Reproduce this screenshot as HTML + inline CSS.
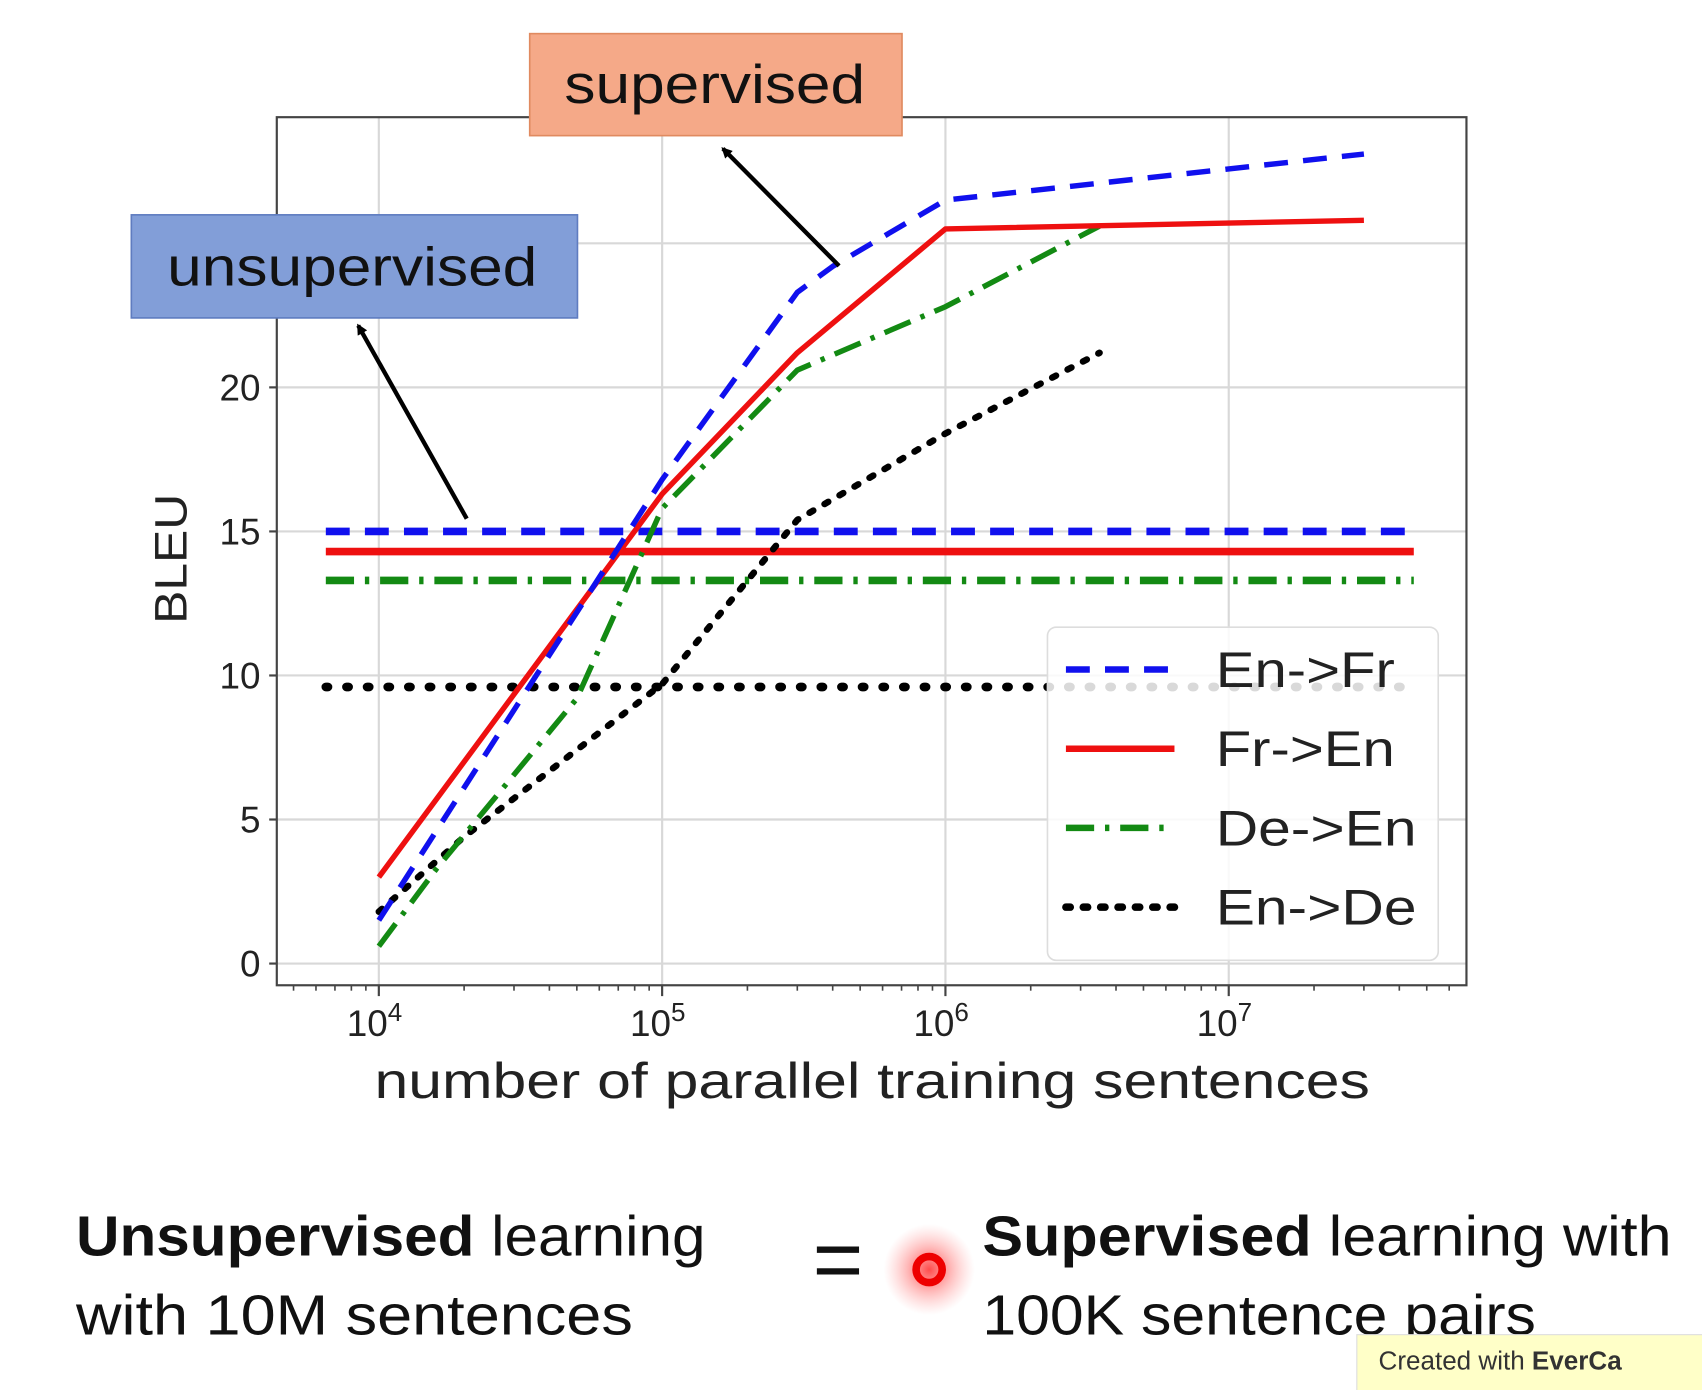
<!DOCTYPE html>
<html><head><meta charset="utf-8"><style>
html,body{margin:0;padding:0;background:#fff;width:1702px;height:1390px;overflow:hidden}
svg{display:block}
text{font-family:"Liberation Sans","DejaVu Sans",sans-serif}
</style></head><body>
<svg id="chart" width="1702" height="1390" viewBox="0 0 1568 1281" preserveAspectRatio="none" xmlns="http://www.w3.org/2000/svg">
<defs>
<radialGradient id="glow"><stop offset="0" stop-color="#ff2020" stop-opacity="0.8"/><stop offset="0.5" stop-color="#ff4040" stop-opacity="0.35"/><stop offset="1" stop-color="#ff8080" stop-opacity="0"/></radialGradient>
<marker id="ah" markerWidth="10" markerHeight="10" refX="8" refY="5" orient="auto" markerUnits="userSpaceOnUse"><path d="M0,0 L10,5 L0,10 z" fill="#000"/></marker>
</defs>
<g id="grid"></g>
<rect x="255" y="108" width="1096" height="800" fill="none" stroke="#444" stroke-width="2"/>
<g id="ticks"></g>
<g id="series"></g>
<text transform="translate(172,515) rotate(-90)" text-anchor="middle" font-size="42" textLength="120" lengthAdjust="spacingAndGlyphs" fill="#222">BLEU</text>
<text x="345" y="1012" font-size="46" textLength="917" lengthAdjust="spacingAndGlyphs" fill="#222">number of parallel training sentences</text>
<g>
<rect x="965" y="578" width="360" height="307" rx="8" fill="#fff" fill-opacity="0.85" stroke="#ddd" stroke-width="1.5"/>
<g id="legend-entries"></g>
</g>
<g>
<rect x="488" y="31" width="343" height="94" fill="#f5a988" stroke="#e08a60" stroke-width="1.5"/>
<text x="520" y="95" font-size="50" textLength="277" lengthAdjust="spacingAndGlyphs" fill="#111">supervised</text>
</g>
<g>
<rect x="121" y="198" width="411" height="95" fill="#829ed8" stroke="#5f7cc0" stroke-width="1.5"/>
<text x="154" y="263" font-size="50" textLength="341" lengthAdjust="spacingAndGlyphs" fill="#111">unsupervised</text>
</g>
<line x1="430" y1="478" x2="330" y2="300" stroke="#000" stroke-width="4" marker-end="url(#ah)"/>
<line x1="773" y1="245" x2="666" y2="137" stroke="#000" stroke-width="4" marker-end="url(#ah)"/>
<text x="70" y="1157" font-size="52" textLength="580" lengthAdjust="spacingAndGlyphs" fill="#111"><tspan font-weight="bold">Unsupervised</tspan> learning</text>
<text x="70" y="1230" font-size="52" textLength="513" lengthAdjust="spacingAndGlyphs" fill="#111">with 10M sentences</text>
<text x="772" y="1188" text-anchor="middle" font-size="80" fill="#111">=</text>
<circle cx="856" cy="1170" r="42" fill="url(#glow)"/>
<circle cx="856" cy="1170" r="12" fill="none" stroke="#ee0000" stroke-width="7"/>
<text x="905" y="1157" font-size="52" textLength="635" lengthAdjust="spacingAndGlyphs" fill="#111"><tspan font-weight="bold">Supervised</tspan> learning with</text>
<text x="905" y="1230" font-size="52" textLength="510" lengthAdjust="spacingAndGlyphs" fill="#111">100K sentence pairs</text>
<g>
<rect x="1250" y="1230" width="330" height="60" fill="#ffffc8" stroke="#ddd"/>
<text x="1270" y="1262" font-size="24" fill="#333">Created with <tspan font-weight="bold">EverCa</tspan></text>
</g>
</svg>
<script>
const yTicks=[0,5,10,15,20,25];
const xDecades=[4,5,6,7];
const names=["En->Fr","Fr->En","De->En","En->De"];
const supX=[[1e4,1e5,3e5,4e5,1e6,3e7],[1e4,1e5,3e5,1e6,3e7],[1e4,1.6e4,5e4,1e5,3e5,1e6,3.5e6],[1e4,2e4,1e5,3e5,1e6,3.5e6]];
const supEnFr=[1.5,16.8,23.3,24.2,26.5,28.1];
const supFrEn=[3.0,16.3,21.2,25.5,25.8];
const supDeEn=[0.6,3.3,9.2,15.8,20.6,22.8,25.6];
const supEnDe=[1.8,4.4,9.7,15.4,18.4,21.2];
const unsupVals=[15.0,14.3,13.3,9.6];
const unsupRange=[6.5e3,4.5e7];
const ns="http://www.w3.org/2000/svg";
const sx=v=>349+261*(Math.log10(v)-4);
const sy=v=>888-26.55*v;
const colors=["#1010ee","#ee1010","#138a13","#000"];
const dashes=["22,14","","26,10,4,10","4,12"];
const caps=["butt","butt","butt","round"];
const legendLens=[165,165,185,185];
function mk(tag,attrs,parent){const e=document.createElementNS(ns,tag);for(const k in attrs)e.setAttribute(k,attrs[k]);parent.appendChild(e);return e;}
const grid=document.getElementById('grid'),ticks=document.getElementById('ticks'),series=document.getElementById('series');
yTicks.forEach(t=>{
 const g=mk('line',{x1:255,x2:1351,y1:sy(t),y2:sy(t),stroke:'#d8d8d8','stroke-width':2},grid);
 
 
 if(t<=20){const l=mk('text',{x:240,y:sy(t)+12,'text-anchor':'end','font-size':34,fill:'#222'},ticks);l.textContent=t;
 
 }
 mk('line',{x1:248,x2:255,y1:sy(t),y2:sy(t),stroke:'#444','stroke-width':2},ticks);
});
xDecades.forEach(d=>{
 const x=sx(Math.pow(10,d));
 const g=mk('line',{x1:x,x2:x,y1:108,y2:908,stroke:'#d8d8d8','stroke-width':2},grid);
 
 
 mk('line',{x1:x,x2:x,y1:908,y2:918,stroke:'#444','stroke-width':2},ticks);
 const l=mk('text',{x:x-4,y:955,'text-anchor':'middle','font-size':34,fill:'#222'},ticks);
 l.textContent='10';
 const s=mk('tspan',{dy:-14,'font-size':24},l);s.textContent=d;
 
 
});
for(let d=3;d<=7;d++)for(let m=2;m<=9;m++){const v=m*Math.pow(10,d);const x=sx(v);if(x>255&&x<1351)mk('line',{x1:x,x2:x,y1:908,y2:913,stroke:'#444','stroke-width':1.5},ticks);}
const sup=[supEnFr,supFrEn,supDeEn,supEnDe];
const order=[3,2,1,0];
order.forEach(i=>{
 const h=mk('line',{x1:sx(unsupRange[0]),x2:sx(unsupRange[1]),y1:sy(unsupVals[i]),y2:sy(unsupVals[i]),stroke:colors[i],'stroke-width':i==3?8:7,'stroke-dasharray':i==3?"2,17":dashes[i],'stroke-linecap':caps[i]},series);
 
 
});
order.forEach(i=>{
 const pts=sup[i].map((v,k)=>sx(supX[i][k])+','+sy(v)).join(' ');
 const p=mk('polyline',{points:pts,fill:'none',stroke:colors[i],'stroke-width':i==3?6:5,'stroke-dasharray':dashes[i],'stroke-linecap':caps[i],'stroke-linejoin':'round'},series);
 
 
});
const le=document.getElementById('legend-entries');
names.forEach((n,i)=>{
 const y=617+i*73;
 const l=mk('line',{x1:982,x2:1082,y1:y,y2:y,stroke:colors[i],'stroke-width':i==3?7:6,'stroke-dasharray':dashes[i],'stroke-linecap':caps[i]},le);
 
 
 const t=mk('text',{x:1120,y:y+16,'font-size':46,fill:'#222',textLength:legendLens[i],lengthAdjust:'spacingAndGlyphs'},le);t.textContent=n;
 
 
});
</script>
</body></html>
